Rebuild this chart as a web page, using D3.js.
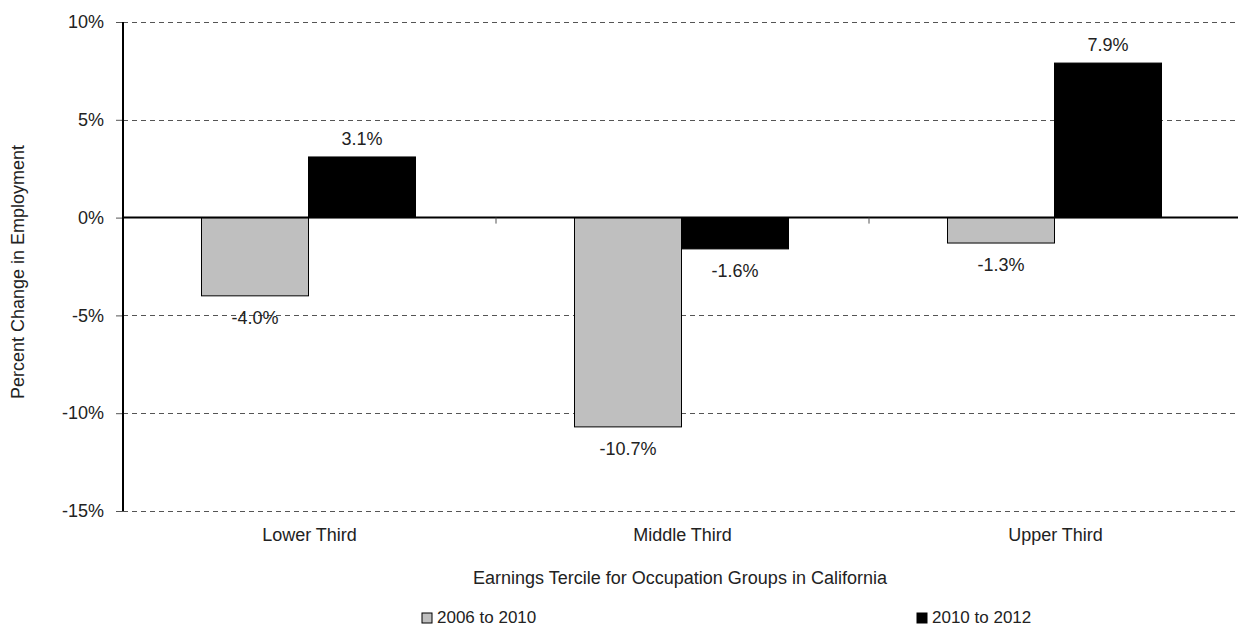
<!DOCTYPE html>
<html>
<head>
<meta charset="utf-8">
<script src="https://cdn.jsdelivr.net/npm/d3@7"></script>
<style>
  html, body { margin: 0; padding: 0; background: #fff; }
  svg { display: block; }
  text { font-family: "Liberation Sans", Arial, sans-serif; fill: #222; }
</style>
</head>
<body>
<svg id="chart" width="1238" height="631"></svg>
<script>
// Employment change by earnings tercile, California occupation groups
const categories = ["Lower Third", "Middle Third", "Upper Third"];
const seriesNames = ["2006 to 2010", "2010 to 2012"];
const values2006to2010 = [-4.0, -10.7, -1.3];
const values2010to2012 = [3.1, -1.6, 7.9];
const yTicks = [10, 5, 0, -5, -10, -15];
const seriesColors = ["#bfbfbf", "#000000"];

const svg = d3.select("#chart");
const plotLeft = 123, plotRight = 1242, plotTop = 22, plotBottom = 511;

const x0 = d3.scaleBand().domain(categories).range([plotLeft, plotRight]).padding(0);
const x1 = d3.scaleBand().domain(seriesNames).range([0, x0.bandwidth()])
  .paddingInner(0).paddingOuter(0.743);
const y = d3.scaleLinear().domain([-15, 10]).range([plotBottom, plotTop]);

// dashed gridlines
svg.append("g").selectAll("line").data(yTicks.filter(d => d !== 0)).join("line")
  .attr("x1", plotLeft).attr("x2", 1238)
  .attr("y1", d => Math.round(y(d)) + 0.5).attr("y2", d => Math.round(y(d)) + 0.5)
  .attr("stroke", "#555").attr("stroke-width", 1).attr("stroke-dasharray", "5,4");

// y axis
const yAxis = svg.append("g").attr("transform", `translate(${plotLeft},0)`)
  .call(d3.axisLeft(y).tickValues(yTicks).tickSize(7).tickPadding(12)
    .tickFormat(d => d + "%"));
yAxis.select(".domain").remove();
yAxis.selectAll(".tick line").attr("stroke", "#555");
yAxis.selectAll(".tick text").style("font-size", "18px").attr("fill", "#222")
  .style("font-family", '"Liberation Sans", Arial, sans-serif');
svg.append("line").attr("x1", plotLeft).attr("x2", plotLeft).attr("y1", y(10)).attr("y2", y(-15))
  .attr("stroke", "#000").attr("stroke-width", 2);

// bars
const data = categories.map((c, i) => ({
  cat: c,
  vals: [
    { s: seriesNames[0], v: values2006to2010[i], color: seriesColors[0] },
    { s: seriesNames[1], v: values2010to2012[i], color: seriesColors[1] }
  ]
}));

const groups = svg.append("g").selectAll("g").data(data).join("g")
  .attr("transform", d => `translate(${x0(d.cat) - 1},0)`);

groups.selectAll("rect").data(d => d.vals).join("rect")
  .attr("x", d => x1(d.s))
  .attr("width", x1.bandwidth())
  .attr("y", d => y(Math.max(0, d.v)))
  .attr("height", d => Math.abs(y(d.v) - y(0)))
  .attr("fill", d => d.color)
  .attr("stroke", "#000").attr("stroke-width", 1);

groups.selectAll("text").data(d => d.vals).join("text")
  .attr("x", d => x1(d.s) + x1.bandwidth() / 2)
  .attr("y", d => d.v >= 0 ? y(d.v) - 12 : y(d.v) + 28)
  .attr("text-anchor", "middle")
  .style("font-size", "18px")
  .text(d => d.v.toFixed(1) + "%");

// zero baseline
svg.append("line").attr("x1", plotLeft).attr("x2", 1238).attr("y1", y(0)).attr("y2", y(0))
  .attr("stroke", "#000").attr("stroke-width", 2);

// category separators on the baseline
svg.append("g").selectAll("line").data(categories.slice(1)).join("line")
  .attr("x1", d => x0(d)).attr("x2", d => x0(d))
  .attr("y1", y(0)).attr("y2", y(0) + 6)
  .attr("stroke", "#555").attr("stroke-width", 1);

// category labels
svg.append("g").selectAll("text").data(categories).join("text")
  .attr("x", d => x0(d) + x0.bandwidth() / 2)
  .attr("y", 541)
  .attr("text-anchor", "middle")
  .style("font-size", "18px")
  .text(d => d);

// axis titles
svg.append("text").attr("x", 680).attr("y", 584).attr("text-anchor", "middle")
  .style("font-size", "18px").text("Earnings Tercile for Occupation Groups in California");
svg.append("text").attr("transform", "translate(24,272) rotate(-90)")
  .attr("text-anchor", "middle").style("font-size", "18px")
  .text("Percent Change in Employment");

// legend
const legendX = [422, 917];
const legend = svg.append("g").selectAll("g").data(seriesNames).join("g")
  .attr("transform", (d, i) => `translate(${legendX[i]},613)`);
legend.append("rect").attr("width", 10).attr("height", 10)
  .attr("fill", (d, i) => seriesColors[i]).attr("stroke", "#000").attr("stroke-width", 1);
legend.append("text").attr("x", 15).attr("y", 10).style("font-size", "17px").text(d => d);
</script>
</body>
</html>
